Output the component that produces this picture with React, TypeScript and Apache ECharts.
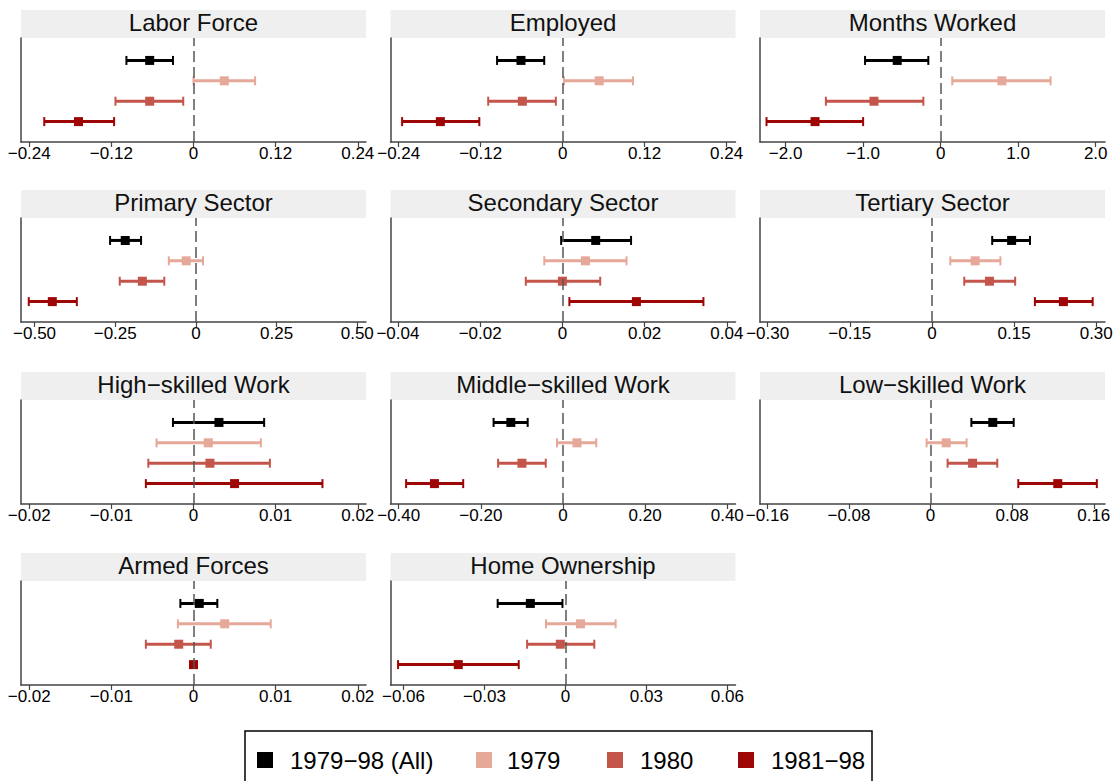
import { useEffect, useRef } from 'react';
import * as echarts from 'echarts';

const FONT = '"Liberation Sans", Arial, Helvetica, sans-serif';

// ---------- data ----------
const PANEL_TITLES = [
  'Labor Force', 'Employed', 'Months Worked',
  'Primary Sector', 'Secondary Sector', 'Tertiary Sector',
  'High−skilled Work', 'Middle−skilled Work', 'Low−skilled Work',
  'Armed Forces', 'Home Ownership',
];

const SERIES_NAMES = ['1979−98 (All)', '1979', '1980', '1981−98'];
const SERIES_COLORS = ['#000000', '#E6A898', '#C4554A', '#9E0505'];
const SERIES_ROWS = [4, 3, 2, 1];

// estimates / lower CI / upper CI, one value per panel (in PANEL_TITLES order)
const EST_ALL = [-0.064, -0.061, -0.56, -0.219, 0.0081, 0.1455, 0.0031, -0.127, 0.061, 0.0007, -0.013];
const LO_ALL = [-0.098, -0.096, -0.975, -0.266, -0.0003, 0.110, -0.0025, -0.169, 0.040, -0.0016, -0.0251];
const HI_ALL = [-0.030, -0.027, -0.159, -0.170, 0.0167, 0.179, 0.0086, -0.086, 0.0815, 0.0029, -0.0011];

const EST_1979 = [0.045, 0.0535, 0.79, -0.030, 0.0056, 0.079, 0.0018, 0.034, 0.0153, 0.0038, 0.0056];
const LO_1979 = [0.000, 0.002, 0.150, -0.084, -0.0044, 0.0335, -0.0045, -0.0146, -0.0039, -0.0019, -0.0072];
const HI_1979 = [0.090, 0.103, 1.418, 0.022, 0.0156, 0.125, 0.0082, 0.081, 0.0353, 0.0094, 0.0186];

const EST_1980 = [-0.064, -0.059, -0.86, -0.166, 0.0, 0.105, 0.0020, -0.100, 0.0412, -0.0018, -0.0019];
const LO_1980 = [-0.114, -0.109, -1.48, -0.236, -0.0089, 0.059, -0.0055, -0.158, 0.0167, -0.0058, -0.0142];
const HI_1980 = [-0.015, -0.010, -0.223, -0.098, 0.0092, 0.152, 0.0093, -0.042, 0.0654, 0.0021, 0.0107];

const EST_1981 = [-0.168, -0.179, -1.62, -0.445, 0.018, 0.240, 0.0050, -0.313, 0.1247, 0.0, -0.0397];
const LO_1981 = [-0.218, -0.235, -2.246, -0.518, 0.0017, 0.188, -0.0058, -0.382, 0.086, 0.0, -0.062];
const HI_1981 = [-0.116, -0.122, -1.0, -0.369, 0.0343, 0.2935, 0.0157, -0.243, 0.163, 0.0, -0.0173];

const X_MIN = [-0.252, -0.252, -2.33, -0.542, -0.0418, -0.314, -0.021, -0.42, -0.1672, -0.021, -0.0648];
const X_MAX = [0.252, 0.253, 2.12, 0.527, 0.0421, 0.316, 0.021, 0.42, 0.171, 0.021, 0.063];

const X_TICKS = [
  [-0.24, -0.12, 0, 0.12, 0.24],
  [-0.24, -0.12, 0, 0.12, 0.24],
  [-2, -1, 0, 1, 2],
  [-0.5, -0.25, 0, 0.25, 0.5],
  [-0.04, -0.02, 0, 0.02, 0.04],
  [-0.3, -0.15, 0, 0.15, 0.3],
  [-0.02, -0.01, 0, 0.01, 0.02],
  [-0.4, -0.2, 0, 0.2, 0.4],
  [-0.16, -0.08, 0, 0.08, 0.16],
  [-0.02, -0.01, 0, 0.01, 0.02],
  [-0.06, -0.03, 0, 0.03, 0.06],
];
const TICK_DECIMALS = [2, 2, 1, 2, 2, 2, 2, 2, 2, 2, 2];

const EST = [EST_ALL, EST_1979, EST_1980, EST_1981];
const LO = [LO_ALL, LO_1979, LO_1980, LO_1981];
const HI = [HI_ALL, HI_1979, HI_1980, HI_1981];

// ---------- layout ----------
const COL_LEFT = [21, 390.5, 760];
const PANEL_W = 345;
const STRIP_TOP = [10, 190, 372, 553];
const STRIP_H = 28;
const PLOT_H = 104;

const LEGEND_BOX = { x: 245, y: 731, w: 627, h: 80 };
const LEGEND_SQ_X = [257, 476, 607, 738];
const LEGEND_TX_X = [290, 507, 640, 771];
const LEGEND_CY = 760;

const renderErrorBar = (_params: any, api: any) => {
  const est = api.value(0);
  const lo = api.value(1);
  const hi = api.value(2);
  const row = api.value(3);
  const pE = api.coord([est, row]);
  const pL = api.coord([lo, row]);
  const pH = api.coord([hi, row]);
  const color = api.visual('color');
  const children: any[] = [];
  if (hi - lo > 1e-12) {
    children.push({
      type: 'line',
      shape: { x1: pL[0], y1: pL[1], x2: pH[0], y2: pH[1] },
      style: { stroke: color, lineWidth: 3 },
    });
    [pL, pH].forEach((p) => {
      children.push({
        type: 'line',
        shape: { x1: p[0], y1: p[1] - 4.5, x2: p[0], y2: p[1] + 4.5 },
        style: { stroke: color, lineWidth: 2 },
      });
    });
  }
  children.push({
    type: 'rect',
    shape: { x: pE[0] - 4.5, y: pE[1] - 4.5, width: 9, height: 9 },
    style: { fill: color },
  });
  return { type: 'group', children };
};

export default function App() {
  const ref = useRef<HTMLDivElement>(null);

  useEffect(() => {
    const chart = echarts.init(ref.current!, null, { renderer: 'svg' });

    const grid: any[] = [];
    const xAxis: any[] = [];
    const yAxis: any[] = [];
    const series: any[] = [];
    const graphic: any[] = [];

    PANEL_TITLES.forEach((title, p) => {
      const col = p % 3;
      const row = Math.floor(p / 3);
      const left = COL_LEFT[col];
      const stripTop = STRIP_TOP[row];
      const top = stripTop + STRIP_H;

      grid.push({ left, top, width: PANEL_W, height: PLOT_H, containLabel: false });

      const dec = TICK_DECIMALS[p];
      xAxis.push({
        type: 'value',
        gridIndex: p,
        min: X_MIN[p],
        max: X_MAX[p],
        axisLine: { show: true, onZero: false, lineStyle: { color: '#444', width: 1.5 } },
        axisTick: { show: true, length: 5, customValues: X_TICKS[p], lineStyle: { color: '#444', width: 1.2 } },
        axisLabel: {
          customValues: X_TICKS[p],
          margin: 3,
          fontSize: 17,
          fontFamily: FONT,
          color: '#000',
          formatter: (v: number) => (Math.abs(v) < 1e-12 ? '0' : v.toFixed(dec).replace('-', '−')),
        },
        splitLine: { show: false },
      });
      yAxis.push({
        type: 'value',
        gridIndex: p,
        min: 0,
        max: 5.1,
        axisLine: { show: true, onZero: false, lineStyle: { color: '#444', width: 1.5 } },
        axisTick: { show: false },
        axisLabel: { show: false },
        splitLine: { show: false },
      });

      // zero reference line
      series.push({
        type: 'line',
        xAxisIndex: p,
        yAxisIndex: p,
        data: [],
        silent: true,
        z: 1,
        markLine: {
          silent: true,
          symbol: ['none', 'none'],
          label: { show: false },
          lineStyle: { color: '#555', type: [11, 5], width: 1.5 },
          data: [{ xAxis: 0 }],
        },
      });

      SERIES_NAMES.forEach((name, g) => {
        series.push({
          type: 'custom',
          name,
          xAxisIndex: p,
          yAxisIndex: p,
          z: 3,
          itemStyle: { color: SERIES_COLORS[g] },
          encode: { x: [0, 1, 2], y: 3 },
          data: [[EST[g][p], LO[g][p], HI[g][p], SERIES_ROWS[g]]],
          renderItem: renderErrorBar,
        });
      });

      graphic.push({
        type: 'rect',
        shape: { x: left, y: stripTop, width: PANEL_W, height: STRIP_H },
        style: { fill: '#EFEFEF' },
        silent: true,
      });
      graphic.push({
        type: 'text',
        x: left + PANEL_W / 2,
        y: stripTop + 12,
        style: {
          text: title,
          fontSize: 24,
          fontFamily: FONT,
          fill: '#111',
          textAlign: 'center',
          textVerticalAlign: 'middle',
        },
        silent: true,
      });
    });

    // legend
    graphic.push({
      type: 'rect',
      shape: { x: LEGEND_BOX.x, y: LEGEND_BOX.y, width: LEGEND_BOX.w, height: LEGEND_BOX.h },
      style: { fill: 'none', stroke: '#000', lineWidth: 1.5 },
      silent: true,
    });
    SERIES_NAMES.forEach((name, g) => {
      graphic.push({
        type: 'rect',
        shape: { x: LEGEND_SQ_X[g], y: LEGEND_CY - 8, width: 16, height: 16 },
        style: { fill: SERIES_COLORS[g] },
        silent: true,
      });
      graphic.push({
        type: 'text',
        x: LEGEND_TX_X[g],
        y: LEGEND_CY,
        style: {
          text: name,
          fontSize: 24,
          fontFamily: FONT,
          fill: '#000',
          textAlign: 'left',
          textVerticalAlign: 'middle',
        },
        silent: true,
      });
    });

    chart.setOption({
      animation: false,
      backgroundColor: '#ffffff',
      grid,
      xAxis,
      yAxis,
      series,
      graphic,
    });

    return () => chart.dispose();
  }, []);

  return (
    <div
      ref={ref}
      style={{ position: 'absolute', left: 0, top: 0, width: 1118, height: 781, background: '#fff' }}
    />
  );
}
